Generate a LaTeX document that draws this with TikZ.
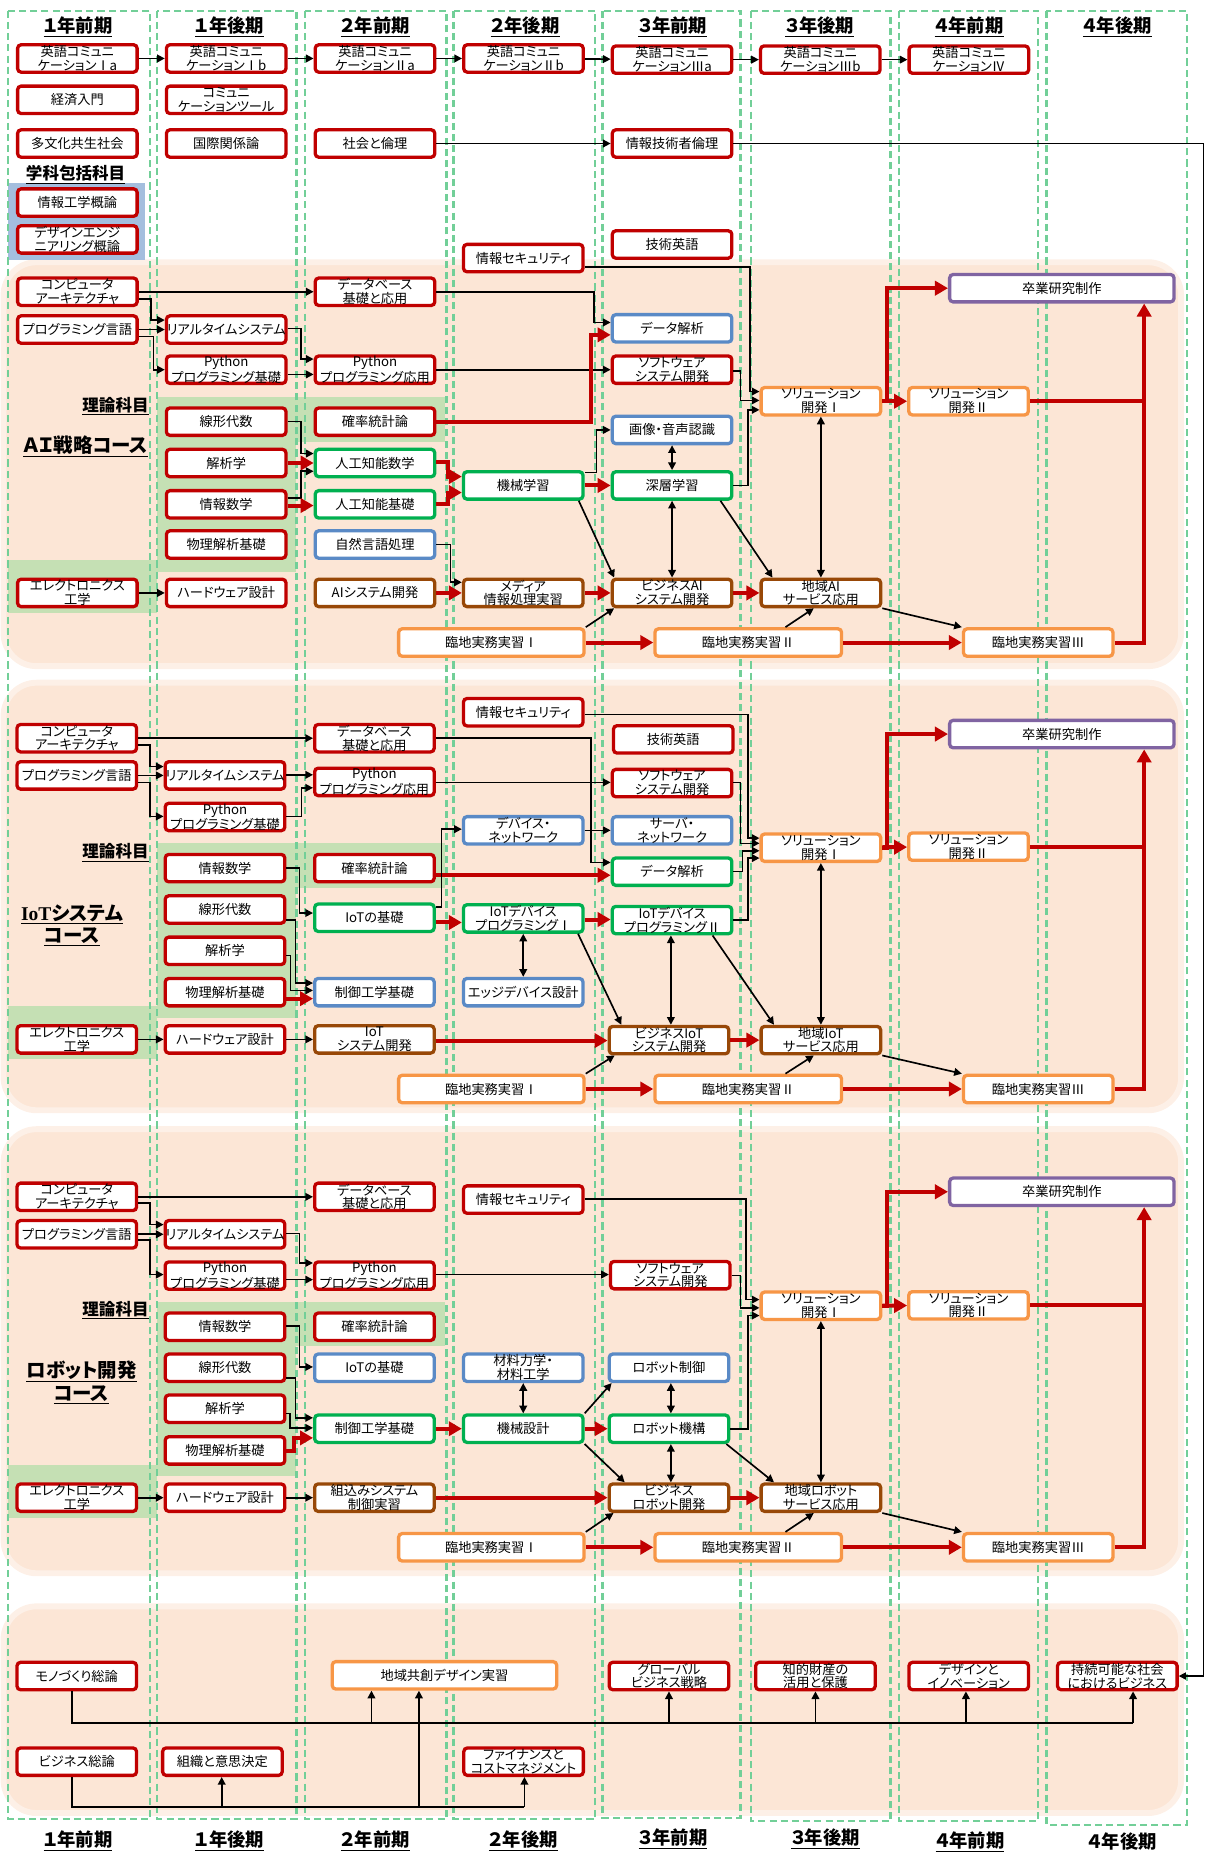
\documentclass[tikz,border=0pt]{standalone}
\usepackage{fontspec}
\setmainfont{Noto Sans CJK JP}[RawFeature={+palt}]
\newfontfamily\serifb{Liberation Serif}
\usetikzlibrary{arrows.meta}
\definecolor{cred}{HTML}{C00000}
\definecolor{cgreen}{HTML}{00B050}
\definecolor{cblue}{HTML}{5A8AC6}
\definecolor{cbrown}{HTML}{984807}
\definecolor{corange}{HTML}{F79646}
\definecolor{cpurple}{HTML}{8064A2}
\definecolor{cpeach}{HTML}{FCE6D6}
\definecolor{cthg}{HTML}{C5E0B4}
\definecolor{cbbg}{HTML}{A4BEDE}
\definecolor{cdash}{HTML}{72CF98}
\newcommand\boxfont{\fontsize{11.2}{11.6}\selectfont}
\tikzset{
 cbox/.style={draw, fill=white, rounded corners=3pt, line width=2.8pt, minimum width=101.2pt, minimum height=23.2pt, inner sep=0pt, align=center, font=\boxfont},
 rb/.style={cbox, draw=cred},
 gb/.style={cbox, draw=cgreen},
 bb/.style={cbox, draw=cblue},
 nb/.style={cbox, draw=cbrown},
 ob/.style={cbox, draw=corange},
 pb/.style={cbox, draw=cpurple},
 bw/.style={minimum width=#1},
 blk/.style={line width=1.4pt, -{Triangle[length=6.5pt,width=6.5pt]}},
 dbl/.style={line width=1.4pt, {Triangle[length=6.5pt,width=6.5pt]}-{Triangle[length=6.5pt,width=6.5pt]}},
 rar/.style={draw=cred, line width=3.4pt, -{Triangle[length=11pt,width=12pt]}},
 rln/.style={draw=cred, line width=3.4pt},
 ln/.style={line width=1.4pt},
 hdr/.style={font=\fontsize{15.5}{15.5}\selectfont\bfseries, inner sep=0pt},
 lblA/.style={font=\fontsize{14}{14}\selectfont\bfseries, inner sep=0pt},
 lblB/.style={font=\fontsize{16.5}{19}\selectfont\bfseries, inner sep=0pt, align=center},
}
\begin{document}
\begin{tikzpicture}[x=1pt,y=-1pt]
\useasboundingbox (0,0) rectangle (1025,1568);
% section backgrounds
\foreach \a/\b in {222/564, 578/940, 956/1332, 1360/1535}{
 \fill[cpeach, rounded corners=28pt] (3,\a) rectangle (1000,\b);
 \draw[cpeach!60, line width=5pt, rounded corners=28pt] (3,\a) rectangle (1000,\b);
}
% theory backgrounds
\fill[cthg] (133,336) rectangle (377,374);
\fill[cthg] (133,336) rectangle (251,484);
\fill[cthg] (7,474) rectangle (133,519);
\fill[cthg] (133,714) rectangle (377,752);
\fill[cthg] (133,714) rectangle (251,862);
\fill[cthg] (7,851.5) rectangle (133,897);
\fill[cthg] (133,1102) rectangle (377,1140);
\fill[cthg] (133,1102) rectangle (251,1250);
\fill[cthg] (7,1240) rectangle (133,1285);
\fill[cbbg] (7,155) rectangle (123,220);
% columns
\foreach \l/\r/\b in {7/127/1540, 133/251/1540, 258/378/1540, 384/504/1540, 510/627/1539, 636/754/1542, 761/879/1542, 886/1005/1545}
 \draw[cdash, line width=1.9pt, dash pattern=on 6pt off 3.5pt] (\l,9) rectangle (\r,\b);
% headers
\node[hdr] (h1) at (66,22.6) {\underline{１年前期}};
\node[hdr] (h2) at (194.3,22.6) {\underline{１年後期}};
\node[hdr] (h3) at (317.7,22.6) {\underline{２年前期}};
\node[hdr] (h4) at (444.6,22.6) {\underline{２年後期}};
\node[hdr] (h5) at (569.5,22.6) {\underline{３年前期}};
\node[hdr] (h6) at (694,22.6) {\underline{３年後期}};
\node[hdr] (h7) at (820.5,22.6) {\underline{４年前期}};
\node[hdr] (h8) at (946,22.6) {\underline{４年後期}};
\node[hdr] (f1) at (66,1558.5) {\underline{１年前期}};
\node[hdr] (f2) at (194.3,1558.5) {\underline{１年後期}};
\node[hdr] (f3) at (317.8,1558.5) {\underline{２年前期}};
\node[hdr] (f4) at (443,1558.5) {\underline{２年後期}};
\node[hdr] (f5) at (569.8,1557) {\underline{３年前期}};
\node[hdr] (f6) at (698.8,1557) {\underline{３年後期}};
\node[hdr] (f7) at (821.2,1559.6) {\underline{４年前期}};
\node[hdr] (f8) at (950.2,1560.2) {\underline{４年後期}};
% labels
\node[lblA] (lk) at (64,148) {\underline{学科包括科目}};
\node[lblA, anchor=east] (th1) at (126,344) {\underline{理論科目}};
\node[lblB] (cn1) at (72.4,378) {\underline{ＡＩ戦略コース}};
\node[lblA, anchor=east] (th2) at (126,721.7) {\underline{理論科目}};
\node[lblB] (cn2) at (61,783.6) {\underline{{\serifb\bfseries IoT}システム}\\\underline{コース}};
\node[lblA, anchor=east] (th3) at (126,1109.4) {\underline{理論科目}};
\node[lblB] (cn3) at (69,1170.5) {\underline{ロボット開発}\\\underline{コース}};

% ===== top nodes =====
\node[rb] (te1) at (65.5,49.5) {英語コミュニ\\ケーションⅠa};
\node[rb] (te2) at (191.5,49.5) {英語コミュニ\\ケーションⅠb};
\node[rb] (te3) at (317.5,49.5) {英語コミュニ\\ケーションⅡa};
\node[rb] (te4) at (443.2,49.5) {英語コミュニ\\ケーションⅡb};
\node[rb] (te5) at (569,50.5) {英語コミュニ\\ケーションⅢa};
\node[rb] (te6) at (694.5,50.5) {英語コミュニ\\ケーションⅢb};
\node[rb] (te7) at (820.3,50.5) {英語コミュニ\\ケーションⅣ};
\node[rb] (tkeizai) at (65.5,84.5) {経済入門};
\node[rb] (tcomm) at (191.5,84.5) {コミュニ\\ケーションツール};
\node[rb] (ttabun) at (65.5,121.5) {多文化共生社会};
\node[rb] (tkoku) at (191.5,121.5) {国際関係論};
\node[rb] (tshakai) at (317.5,121.5) {社会と倫理};
\node[rb] (trinri) at (569,121.5) {情報技術者倫理};
\node[rb] (tjoho) at (65.5,171.5) {情報工学概論};
\node[rb] (tdesign) at (65.5,202.7) {デザインエンジ\\ニアリング概論};
\node[rb] (tte) at (569,207) {技術英語};

% ===== AI nodes =====
\node[rb] (asec) at (443,218.5) {情報セキュリティ};
\node[rb] (aarch) at (65.5,247) {コンピュータ\\アーキテクチャ};
\node[rb] (adb) at (317.5,247) {データベース\\基礎と応用};
\node[pb, bw=190pt] (agrad) at (899,244) {卒業研究制作};
\node[rb] (aprog) at (65.5,279) {プログラミング言語};
\node[rb] (art) at (191.5,279) {リアルタイムシステム};
\node[bb] (ada) at (569,278) {データ解析};
\node[rb] (apy1) at (191.5,313) {Python\\プログラミング基礎};
\node[rb] (apy2) at (317.5,313) {Python\\プログラミング応用};
\node[rb] (asw) at (569,313) {ソフトウェア\\システム開発};
\node[ob] (asol1) at (695,339.7) {ソリューション\\開発Ⅰ};
\node[ob] (asol2) at (820,339.7) {ソリューション\\開発Ⅱ};
\node[rb] (alin) at (191.5,357) {線形代数};
\node[rb] (aprob) at (317.5,357) {確率統計論};
\node[bb] (aimg) at (569,364) {画像・音声認識};
\node[rb] (aana) at (191.5,392) {解析学};
\node[gb] (aaim) at (317.5,392) {人工知能数学};
\node[gb] (aml) at (443,411) {機械学習};
\node[gb] (adl) at (569,411) {深層学習};
\node[rb] (ainf) at (191.5,427) {情報数学};
\node[gb] (aaib) at (317.5,427) {人工知能基礎};
\node[rb] (aphys) at (191.5,461) {物理解析基礎};
\node[bb] (anlp) at (317.5,461) {自然言語処理};
\node[rb] (aelec) at (65.5,502) {エレクトロニクス\\工学};
\node[rb] (ahw) at (191.5,502) {ハードウェア設計};
\node[nb] (aaisys) at (317.5,502) {AIシステム開発};
\node[nb] (amedia) at (443,502) {メディア\\情報処理実習};
\node[nb] (abai) at (569,502) {ビジネスAI\\システム開発};
\node[nb] (areg) at (695,502) {地域AI\\サービス応用};
\node[ob, bw=157pt] (ar1) at (416,544) {臨地実務実習Ⅰ};
\node[ob, bw=158pt] (ar2) at (633.5,544) {臨地実務実習Ⅱ};
\node[ob, bw=126.5pt] (ar3) at (879,544) {臨地実務実習Ⅲ};

% ===== IoT nodes =====
\node[rb] (bsec) at (443,603) {情報セキュリティ};
\node[rb] (bte) at (570,626) {技術英語};
\node[pb, bw=190pt] (bgrad) at (899,621.5) {卒業研究制作};
\node[rb] (barch) at (65,625) {コンピュータ\\アーキテクチャ};
\node[rb] (bdb) at (317,625) {データベース\\基礎と応用};
\node[rb] (bprog) at (65,656.5) {プログラミング言語};
\node[rb] (brt) at (190.5,656.5) {リアルタイムシステム};
\node[rb] (bpy2) at (317,662) {Python\\プログラミング応用};
\node[rb] (bsw) at (569,663) {ソフトウェア\\システム開発};
\node[rb] (bpy1) at (190.5,691.7) {Python\\プログラミング基礎};
\node[bb] (bdev) at (443,703) {デバイス・\\ネットワーク};
\node[bb] (bsrv) at (569,703) {サーバ・\\ネットワーク};
\node[ob] (bsol1) at (695,717.7) {ソリューション\\開発Ⅰ};
\node[ob] (bsol2) at (820,716.8) {ソリューション\\開発Ⅱ};
\node[rb] (binf) at (190.5,735) {情報数学};
\node[rb] (bprob) at (317,735) {確率統計論};
\node[gb] (bda) at (569,738) {データ解析};
\node[rb] (blin) at (190.5,770) {線形代数};
\node[gb] (biotb) at (317,777) {IoTの基礎};
\node[gb] (biot1) at (443,777.6) {IoTデバイス\\プログラミングⅠ};
\node[gb] (biot2) at (569,779) {IoTデバイス\\プログラミングⅡ};
\node[rb] (bana) at (190.5,805) {解析学};
\node[rb] (bphys) at (190.5,840) {物理解析基礎};
\node[bb] (bctl) at (317,840) {制御工学基礎};
\node[bb] (bedge) at (443,840) {エッジデバイス設計};
\node[rb] (belec) at (65,880) {エレクトロニクス\\工学};
\node[rb] (bhw) at (190.5,880) {ハードウェア設計};
\node[nb] (biotsys) at (317,880) {IoT\\システム開発};
\node[nb] (bbiot) at (566.4,880.6) {ビジネスIoT\\システム開発};
\node[nb] (breg) at (695,880.6) {地域IoT\\サービス応用};
\node[ob, bw=157pt] (br1) at (416,922) {臨地実務実習Ⅰ};
\node[ob, bw=158pt] (br2) at (633.5,922) {臨地実務実習Ⅱ};
\node[ob, bw=126.5pt] (br3) at (879,922) {臨地実務実習Ⅲ};

% ===== Robot nodes =====
\node[rb] (carch) at (65,1013.3) {コンピュータ\\アーキテクチャ};
\node[rb] (cdb) at (317,1013.3) {データベース\\基礎と応用};
\node[rb] (csec) at (443,1015.6) {情報セキュリティ};
\node[pb, bw=190pt] (cgrad) at (899,1009) {卒業研究制作};
\node[rb] (cprog) at (65,1045) {プログラミング言語};
\node[rb] (crt) at (190.5,1045) {リアルタイムシステム};
\node[rb] (cpy1) at (190.5,1080) {Python\\プログラミング基礎};
\node[rb] (cpy2) at (317,1080) {Python\\プログラミング応用};
\node[rb] (csw) at (567.5,1079.6) {ソフトウェア\\システム開発};
\node[ob] (csol1) at (695,1105.5) {ソリューション\\開発Ⅰ};
\node[ob] (csol2) at (820,1105.2) {ソリューション\\開発Ⅱ};
\node[rb] (cinf) at (190.5,1123.3) {情報数学};
\node[rb] (cprob) at (317,1123.3) {確率統計論};
\node[rb] (clin) at (190.5,1158) {線形代数};
\node[bb] (ciotb) at (317,1158) {IoTの基礎};
\node[bb] (cmat) at (443,1158) {材料力学・\\材料工学};
\node[bb] (crc) at (566.4,1158) {ロボット制御};
\node[rb] (cana) at (190.5,1192.7) {解析学};
\node[gb] (cctl) at (317,1209.6) {制御工学基礎};
\node[gb] (cmd) at (443,1209.6) {機械設計};
\node[gb] (crm) at (566.4,1209.6) {ロボット機構};
\node[rb] (cphys) at (190.5,1228) {物理解析基礎};
\node[rb] (celec) at (65,1268) {エレクトロニクス\\工学};
\node[rb] (chw) at (190.5,1268) {ハードウェア設計};
\node[nb] (cemb) at (317,1268) {組込みシステム\\制御実習};
\node[nb] (cbrd) at (566.4,1268) {ビジネス\\ロボット開発};
\node[nb] (creg) at (695,1268) {地域ロボット\\サービス応用};
\node[ob, bw=157pt] (cr1) at (416,1310) {臨地実務実習Ⅰ};
\node[ob, bw=158pt] (cr2) at (633.5,1310) {臨地実務実習Ⅱ};
\node[ob, bw=126.5pt] (cr3) at (879,1310) {臨地実務実習Ⅲ};

% ===== bottom nodes =====
\node[rb] (dmono) at (65,1419) {モノづくり総論};
\node[ob, bw=190pt] (dcoc) at (376.3,1418.4) {地域共創デザイン実習};
\node[rb] (dglob) at (566.4,1419) {グローバル\\ビジネス戦略};
\node[rb] (dip) at (690.4,1419) {知的財産の\\活用と保護};
\node[rb] (ddi) at (820.2,1419) {デザインと\\イノベーション};
\node[rb] (dsus) at (946,1419) {持続可能な社会\\におけるビジネス};
\node[rb] (dbiz) at (65,1491.5) {ビジネス総論};
\node[rb] (dorg) at (188.3,1491.5) {組織と意思決定};
\node[rb] (dfin) at (443.3,1491.5) {ファイナンスと\\コストマネジメント};

% ===== top connectors =====
\draw[blk] (te1) -- (te2);
\draw[blk] (te2) -- (te3);
\draw[blk] (te3) -- (te4);
\draw[blk] (te4) -- (te5);
\draw[blk] (te5) -- (te6);
\draw[blk] (te6) -- (te7);
\draw[blk] (tshakai) -- (trinri);
\coordinate (rr) at (1019,121.5);
\draw[line width=1.1pt, -{Triangle[length=6pt,width=6pt]}] (trinri.east) -- (trinri.east -| rr) |- (dsus.east);

% ===== AI connectors =====
\draw[blk] (aarch) -- (adb);
\draw[blk] (aarch.east |- 0,253) -| (128,271) -- (art.west |- 0,271);
\draw[blk] (aprog.east |- 0,279) -- (art.west |- 0,279);
\draw[blk] (aprog.east |- 0,285) -| (130,313) -- (apy1.west |- 0,313);
\draw[blk] (art.east |- 0,278) -| (255,304) -- (apy2.west |- 0,304);
\draw[blk] (apy1.east |- 0,317) -- (apy2.west |- 0,317);
\draw[blk] (adb.east) -| (503,273) -- (ada.west |- 0,273);
\draw[blk] (apy2.east |- 0,313) -- (asw.west |- 0,313);
\draw[rar] (aprob.east) -| (500,283.5) -- (ada.west |- 0,283.5);
\draw[blk] (alin.east |- 0,357) -| (255,384) -- (aaim.west |- 0,384);
\draw[rar] (aana.east |- 0,392) -- (aaim.west |- 0,392);
\draw[blk] (ainf.east |- 0,421.5) -| (255,399) -- (aaim.west |- 0,399);
\draw[rar] (ainf.east |- 0,428) -- (aaib.west |- 0,428);
\draw[rar] (aaim.east |- 0,391) -| (379,403.5) -- (aml.west |- 0,403.5);
\draw[rar] (aaib.east |- 0,427) -| (379,417) -- (aml.west |- 0,417);
\draw[blk] (anlp.east |- 0,461) -| (381.5,493) -- (amedia.west |- 0,493);
\draw[rar] (aaisys) -- (amedia);
\draw[blk] (aelec) -- (ahw);
\draw[blk] (aml.east |- 0,400) -| (505,364) -- (aimg.west |- 0,364);
\draw[rar] (aml) -- (adl);
\draw[blk] ([xshift=-5pt]aml.south east) -- ([xshift=3pt]abai.north west);
\draw[rar] (amedia) -- (abai);
\draw[blk] (ar1.north east) -- ([xshift=3pt]abai.south west);
\draw[rar] (ar1) -- (ar2);
\draw[rar] (ar2) -- (ar3);
\draw[blk] (ar2.north -| 665,0) -- (areg.south -| 689,0);
\draw[rar] (abai) -- (areg);
\draw[blk] (areg.south east) -- (ar3.north west);
\draw[rar] (ar3.east) -| (agrad.south -| 968.7,0);
\draw[rln] (asol2.east) -- (asol2.east -| 968.7,0);
\draw[rar] (asol1) -- (asol2);
\draw[rar] (asol1.east) -- (asol1.east -| 750.7,0) |- (agrad.west);
\draw[dbl] (aimg) -- (adl);
\draw[dbl] (adl) -- (abai);
\draw[blk] (adl.south -| 610,0) -- (areg.north -| 654,0);
\draw[dbl] (asol1) -- (areg);
\draw[blk] (asec.east |- 0,226) -| (635,331.5) -- (asol1.west |- 0,331.5);
\draw[blk] (asw.east |- 0,314) -| (627,339) -- (asol1.west |- 0,339);
\draw[blk] (adl.east |- 0,411) -| (633.4,347) -- (asol1.west |- 0,347);

% ===== IoT connectors =====
\draw[blk] (barch) -- (bdb);
\draw[blk] (barch.east |- 0,630.6) -| (127,649) -- (brt.west |- 0,649);
\draw[blk] (bprog) -- (brt);
\draw[blk] (bprog.east |- 0,662.4) -| (127,691.2) -- (bpy1.west |- 0,691.2);
\draw[blk] (brt.east |- 0,656) -- (bpy2.west |- 0,656);
\draw[blk] (bpy1.east |- 0,691.2) -| (255.2,667) -- (bpy2.west |- 0,667);
\draw[blk] (bdb.east) -| (500.6,730.2) -- (bda.west |- 0,730.2);
\draw[blk] (bpy2.east |- 0,662.4) -- (bsw.west |- 0,662.4);
\draw[rar] (bprob.east |- 0,741) -- (bda.west |- 0,741);
\draw[blk] (biotb.east |- 0,768) -| (373.8,702) -- (bdev.west |- 0,702);
\draw[blk] (bdev) -- (bsrv);
\draw[rar] (biotb.east |- 0,781) -- (biot1.west |- 0,781);
\draw[rar] (biot1.east |- 0,778.5) -- (biot2.west |- 0,778.5);
\draw[dbl] (biot1) -- (bedge);
\draw[blk] ([xshift=-5.6pt]biot1.south east) -- (bbiot.north -| 526,0);
\draw[blk] (binf.east |- 0,735) -| (253.6,773) -- (biotb.west |- 0,773);
\draw[blk] (blin.east |- 0,778.7) -| (250.3,832.3) -- (bctl.west |- 0,832.3);
\draw[blk] (bana.east |- 0,809) -| (246,838.5) -- (bctl.west |- 0,838.5);
\draw[rar] (bphys.east |- 0,845.5) -- (bctl.west |- 0,845.5);
\draw[blk] (belec) -- (bhw);
\draw[blk] (bhw) -- (biotsys);
\draw[rar] (biotsys.east |- 0,881) -- (bbiot.west |- 0,881);
\draw[blk] (br1.north east) -- ([xshift=6pt]bbiot.south west);
\draw[rar] (br1) -- (br2);
\draw[rar] (br2) -- (br3);
\draw[blk] (br2.north -| 665,0) -- (breg.south -| 689,0);
\draw[rar] (bbiot) -- (breg);
\draw[blk] (breg.south east) -- (br3.north west);
\draw[rar] (br3.east) -| (bgrad.south -| 968.7,0);
\draw[rln] (bsol2.east) -- (bsol2.east -| 968.7,0);
\draw[rar] (bsol1) -- (bsol2);
\draw[rar] (bsol1.east) -- (bsol1.east -| 750.7,0) |- (bgrad.west);
\draw[dbl] (biot2.south -| 568,0) -- (bbiot.north -| 568,0);
\draw[blk] (biot2.south -| 603.3,0) -- (breg.north -| 655.3,0);
\draw[dbl] (bsol1) -- (breg);
\draw[blk] (bsec.east |- 0,605) -| (633.4,709.6) -- (bsol1.west |- 0,709.6);
\draw[blk] (bsw.east |- 0,662.4) -| (626.8,714) -- (bsol1.west |- 0,714);
\draw[blk] (bda.east |- 0,737.8) -| (628.5,720.3) -- (bsol1.west |- 0,720.3);
\draw[blk] (biot2.east |- 0,778.7) -| (633.4,726.5) -- (bsol1.west |- 0,726.5);

% ===== Robot connectors =====
\draw[blk] (carch) -- (cdb);
\draw[blk] (carch.east |- 0,1018.5) -| (127,1036.8) -- (crt.west |- 0,1036.8);
\draw[blk] (cprog) -- (crt);
\draw[blk] (cprog.east |- 0,1050) -| (127,1079.1) -- (cpy1.west |- 0,1079.1);
\draw[blk] (crt.east |- 0,1044.4) -| (253.6,1069.3) -- (cpy2.west |- 0,1069.3);
\draw[blk] (cpy1.east |- 0,1083.4) -- (cpy2.west |- 0,1083.4);
\draw[blk] (cpy2.east |- 0,1079.1) -- (csw.west |- 0,1079.1);
\draw[blk] (cinf.east |- 0,1122.9) -| (253.6,1157.3) -- (ciotb.west |- 0,1157.3);
\draw[blk] (clin.east |- 0,1166.6) -| (250.3,1200.4) -- (cctl.west |- 0,1200.4);
\draw[blk] (cana.east |- 0,1196.8) -| (245.4,1208.9) -- (cctl.west |- 0,1208.9);
\draw[rar] (cphys.east |- 0,1228.7) -| (248.6,1217.4) -- (cctl.west |- 0,1217.4);
\draw[rar] (cctl) -- (cmd);
\draw[dbl] (cmat) -- (cmd);
\draw[blk] (cmd.north east) -- ([xshift=3.4pt]crc.south west);
\draw[rar] (cmd) -- (crm);
\draw[blk] (cmd.south east) -- (cbrd.north -| 528.9,0);
\draw[dbl] (crc.south -| 568,0) -- (crm.north -| 568,0);
\draw[dbl] (crm.south -| 568,0) -- (cbrd.north -| 568,0);
\draw[blk] (crm.south -| 615,0) -- (creg.north -| 655.3,0);
\draw[blk] (crm.east |- 0,1209.8) -| (633.4,1113.8) -- (csol1.west |- 0,1113.8);
\draw[blk] (csw.east |- 0,1080) -| (626.8,1107.3) -- (csol1.west |- 0,1107.3);
\draw[blk] (csec.east |- 0,1015) -| (631.8,1100.3) -- (csol1.west |- 0,1100.3);
\draw[dbl] (csol1) -- (creg);
\draw[rar] (cemb) -- (cbrd);
\draw[blk] (celec) -- (chw);
\draw[blk] (chw) -- (cemb);
\draw[blk] (cr1.north east) -- ([xshift=5pt]cbrd.south west);
\draw[rar] (cr1) -- (cr2);
\draw[blk] (cr2.north -| 665,0) -- (creg.south -| 689,0);
\draw[rar] (cbrd) -- (creg);
\draw[blk] (creg.south east) -- (cr3.north west);
\draw[rar] (cr2) -- (cr3);
\draw[rar] (cr3.east) -| (cgrad.south -| 968.7,0);
\draw[rln] (csol2.east) -- (csol2.east -| 968.7,0);
\draw[rar] (csol1) -- (csol2);
\draw[rar] (csol1.east) -- (csol1.east -| 750.7,0) |- (cgrad.west);

% ===== bottom connectors =====
\coordinate (bus1s) at (61,1458.6);
\coordinate (bus1e) at (959.3,1458.6);
\coordinate (k1) at (314.5,1458.6);
\coordinate (k2) at (566.4,1458.6);
\coordinate (k3) at (690.4,1458.6);
\coordinate (k4) at (817.8,1458.6);
\draw[ln] (dmono.south -| bus1s) -- (bus1s) -- (bus1e);
\draw[blk] (k1) -- (dcoc.south -| k1);
\draw[blk] (k2) -- (dglob.south -| k2);
\draw[blk] (k3) -- (dip.south -| k3);
\draw[blk] (k4) -- (ddi.south -| k4);
\draw[blk] (bus1e) -- (dsus.south -| bus1e);
\coordinate (bus2s) at (61,1529.7);
\coordinate (bus2e) at (444,1529.7);
\coordinate (k5) at (187.7,1529.7);
\coordinate (k6) at (354.7,1529.7);
\draw[ln] (dbiz.south -| bus2s) -- (bus2s) -- (bus2e);
\draw[blk] (k5) -- (dorg.south -| k5);
\draw[blk] (k6) -- (dcoc.south -| k6);
\draw[blk] (bus2e) -- (dfin.south -| bus2e);
\end{tikzpicture}
\end{document}
